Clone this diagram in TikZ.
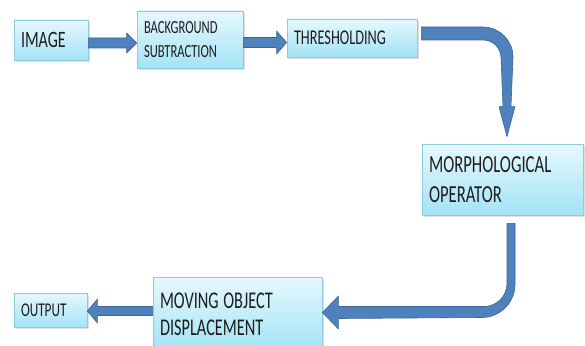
\documentclass[tikz,border=0pt]{standalone}
\usepackage{fontspec}
\setmainfont[FakeStretch=0.68]{Carlito}
\usetikzlibrary{calc,shadows}
\definecolor{boxtop}{HTML}{E6F8FD}
\definecolor{boxbottom}{HTML}{A3E3F6}
\definecolor{boxedge}{HTML}{8ACBE0}
\definecolor{arrowfill}{HTML}{4F81BD}
\definecolor{arrowedge}{HTML}{3A6595}
\definecolor{ink}{HTML}{1E1E1E}

\begin{document}
\begin{tikzpicture}[x=1pt, y=-1pt, text=ink,
  block/.style={draw=boxedge, line width=0.8pt, top color=boxtop, bottom color=boxbottom,
    align=left, inner xsep=7pt, inner ysep=0pt,
    drop shadow={opacity=0.25, shadow xshift=1.5pt, shadow yshift=-2pt}},
  fatarrow/.style={draw=arrowedge, fill=arrowfill, line width=0.6pt, line join=round}]
  \useasboundingbox (0,0) rectangle (585,345);

  \node[block, text width=60pt, minimum height=40pt, font=\fontsize{23.5}{28}\selectfont]
    (image) at (51,40) {IMAGE};
  \node[block, text width=92pt, minimum height=57pt, font=\fontsize{18.5}{24}\selectfont]
    (bg) at (190,39.5) {BACKGROUND\\SUBTRACTION};
  \node[block, text width=116pt, minimum height=38pt, font=\fontsize{21}{25}\selectfont]
    (thresh) at (352,38) {THRESHOLDING};
  \node[block, text width=147pt, minimum height=71pt, font=\fontsize{24.5}{30}\selectfont]
    (morph) at (502.5,179.5) {MORPHOLOGICAL\\OPERATOR};
  \node[block, text width=155pt, minimum height=74pt, font=\fontsize{24}{27}\selectfont]
    (moving) at (237.5,314) {MOVING\hspace{-0.14em} OBJECT\\DISPLACEMENT};
  \node[block, text width=59pt, minimum height=34pt, font=\fontsize{19.5}{22}\selectfont]
    (output) at (50.5,310) {OUTPUT};

  % straight block arrows, drawn as one filled outline each
  \foreach \src/\dst/\dy/\hw/\hh/\hl in {image.east/bg.west/3/5/10/10,
      bg.east/thresh.west/3/5/11.5/10, moving.west/output.east/-3/4.5/12/-10} {
    \coordinate (s) at ($(\src)+(0,\dy)$);
    \coordinate (t) at (\dst |- s);
    \path[fatarrow] ($(s)-(0,\hw)$) -- ($(t)-(\hl,\hw)$) -- ($(t)-(\hl,\hh)$) -- (t)
      -- ($(t)-(\hl,-\hh)$) -- ($(t)-(\hl,-\hw)$) -- ($(s)-(0,-\hw)$) -- cycle;
  }

  % bent arrow: thresholding -> morphological operator
  \coordinate (a) at ($(thresh.east)+(4,-4.5)$);
  \coordinate (b) at ($(morph.north)+(4.5,-7)$);
  \coordinate (c) at (b |- a);
  \path[fatarrow] ($(a)+(0,-6.5)$) -- ($(c)+(-24,-6.5)$)
    .. controls ($(c)+(-7.5,-6.5)$) and ($(c)+(6,7)$) .. ($(c)+(6,23.5)$)
    -- ($(b)+(4,-30)$) -- ($(b)+(8,-30)$) -- (b) -- ($(b)+(-8,-30)$) -- ($(b)+(-4,-30)$)
    -- ($(c)+(-6,24.5)$) .. controls ($(c)+(-6,14.5)$) and ($(c)+(-14,6.5)$) .. ($(c)+(-24,6.5)$)
    -- ($(a)+(0,6.5)$) -- cycle;

  % bent arrow: morphological operator -> moving object displacement
  \coordinate (a2) at ($(morph.south)+(8.5,8)$);
  \coordinate (b2) at ($(moving.east)+(0,-1.5)$);
  \coordinate (c2) at (a2 |- b2);
  \path[fatarrow] ($(a2)+(4,0)$) -- ($(c2)+(4,-28)$)
    .. controls ($(c2)+(4,-10)$) and ($(c2)+(-11,5)$) .. ($(c2)+(-29,5)$)
    -- ($(b2)+(16,6)$) -- ($(b2)+(16,16.5)$) -- (b2) -- ($(b2)+(16,-16.5)$) -- ($(b2)+(16,-6)$)
    -- ($(c2)+(-27,-6)$) .. controls ($(c2)+(-14.4,-6)$) and ($(c2)+(-4,-16.4)$) .. ($(c2)+(-4,-29)$)
    -- ($(a2)+(-4,0)$) -- cycle;
\end{tikzpicture}
\end{document}
